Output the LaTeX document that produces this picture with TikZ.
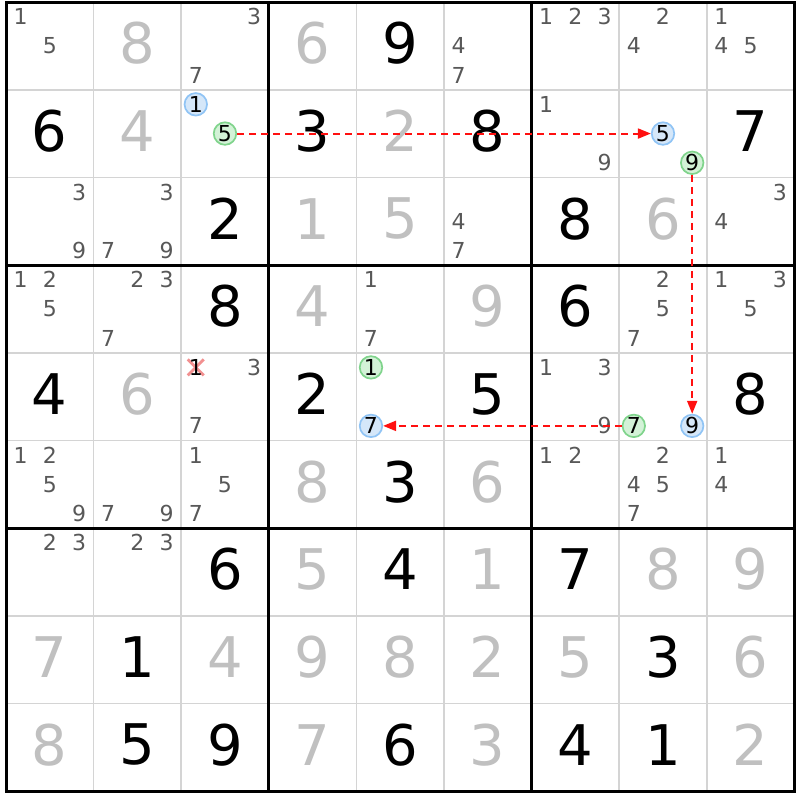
\documentclass[tikz,border=0pt]{standalone}
\usepackage{fontspec}
\setmainfont{DejaVu Sans}
\usetikzlibrary{arrows.meta}

\definecolor{thinGray}{HTML}{D4D4D4}
\definecolor{solvedGray}{HTML}{C0C0C0}
\definecolor{candGray}{HTML}{585858}
\definecolor{onFill}{HTML}{D5E7F9}
\definecolor{onLine}{HTML}{90C4F5}
\definecolor{offFill}{HTML}{D3F2D7}
\definecolor{offLine}{HTML}{80D48C}
\definecolor{linkRed}{HTML}{FF1010}
\definecolor{crossRed}{HTML}{F29090}

\tikzstyle{myGiven} = [inner sep=0pt,font=\fontsize{56}{56}\selectfont,text=black]
\tikzstyle{mySolved} = [myGiven,text=solvedGray]
\tikzstyle{myCand} = [inner sep=0pt,font=\fontsize{22}{22}\selectfont,text=candGray]
\tikzstyle{myOn} = [myCand,circle,text=black,draw=onLine,fill=onFill,line width=1.7pt,minimum size=22.5pt]
\tikzstyle{myOff} = [myOn,draw=offLine,fill=offFill]
\tikzstyle{myLink} = [draw=linkRed,line width=2pt,dash pattern=on 7pt off 5pt,-{Triangle[length=13pt,width=10pt]}]

\begin{document}
\begin{tikzpicture}[x=87.6pt,y=-87.7pt]
			\fill[white] (-0.0685,-0.0228) rectangle (9.0639,9.0994);
			\useasboundingbox (-0.0685,-0.0228) rectangle (9.0639,9.0994);
			% grid
			\foreach \i in {1,2,4,5,7,8} {
				\draw[thinGray,line width=1.6pt] (\i,0) -- (\i,9);
				\draw[thinGray,line width=1.6pt] (0,\i) -- (9,\i);
			}
			\foreach \i in {3,6} {
				\draw[black,line width=3pt] (\i,0) -- (\i,9);
				\draw[black,line width=3pt] (0,\i) -- (9,\i);
			}
			\draw[black,line width=3pt] (0,0) rectangle (9,9);
			% big digits
			\foreach \row/\col/\v in {1/5/9,2/1/6,2/4/3,2/6/8,2/9/7,3/3/2,3/7/8,4/3/8,4/7/6,5/1/4,5/4/2,5/6/5,5/9/8,6/5/3,7/3/6,7/5/4,7/7/7,8/2/1,8/8/3,9/2/5,9/3/9,9/5/6,9/7/4,9/8/1}
				\node[myGiven] (g\row\col) at (\col-0.5,\row-0.53) {\v};
			\foreach \row/\col/\v in {1/2/8,1/4/6,2/2/4,2/5/2,3/4/1,3/5/5,3/8/6,4/4/4,4/6/9,5/2/6,6/4/8,6/6/6,7/4/5,7/6/1,7/8/8,7/9/9,8/1/7,8/3/4,8/4/9,8/5/8,8/6/2,8/7/5,8/9/6,9/1/8,9/4/7,9/6/3,9/9/2}
				\node[mySolved] (g\row\col) at (\col-0.5,\row-0.53) {\v};
			% candidates
			\foreach \row/\col/\ds in {1/1/{1,5},1/3/{3,7},1/6/{4,7},1/7/{1,2,3},1/8/{2,4},1/9/{1,4,5},2/7/{1,9},3/1/{3,9},3/2/{3,7,9},3/6/{4,7},3/9/{3,4},4/1/{1,2,5},4/2/{2,3,7},4/5/{1,7},4/8/{2,5,7},4/9/{1,3,5},5/3/{3,7},5/7/{1,3,9},6/1/{1,2,5,9},6/2/{7,9},6/3/{1,5,7},6/7/{1,2},6/8/{2,4,5,7},6/9/{1,4},7/1/{2,3},7/2/{2,3}}
				\foreach \d in \ds
					\node[myCand] (c\row\col\d) at ({\col-1+(mod(\d-1,3)+0.5)/3},{\row-1+(int((\d-1)/3)+0.5)/3}) {\d};
			% eliminated candidate
			\coordinate (x1) at (2+1/6,4+1/6);
			\draw[crossRed,line width=2.8pt] ([shift={(-8pt,-8pt)}]x1) -- ([shift={(8pt,8pt)}]x1);
			\draw[crossRed,line width=2.8pt] ([shift={(-8pt,8pt)}]x1) -- ([shift={(8pt,-8pt)}]x1);
			\node[myCand,text=black] (k1) at (x1) {1};
			% chain
			\node[myOn] (m1) at (2+1/6,1+1/6) {1};
			\node[myOff] (n1) at (2+3/6,1+3/6) {5};
			\node[myOn] (n2) at (7+3/6,1+3/6) {5};
			\node[myOff] (n3) at (7+5/6,1+5/6) {9};
			\node[myOn] (n4) at (7+5/6,4+5/6) {9};
			\node[myOff] (n5) at (7+1/6,4+5/6) {7};
			\node[myOn] (n6) at (4+1/6,4+5/6) {7};
			\node[myOff] (m2) at (4+1/6,4+1/6) {1};
			\draw[myLink] (n1) -- (n2);
			\draw[myLink] (n3) -- (n4);
			\draw[myLink] (n5) -- (n6);
		\end{tikzpicture}
\end{document}
